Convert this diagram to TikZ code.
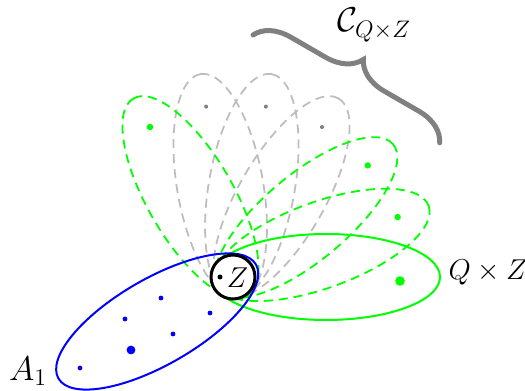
\documentclass[tikz,border=0pt]{standalone}
\usepackage{amsmath}
\usetikzlibrary{decorations.pathreplacing}
\definecolor{lgray}{RGB}{190,190,190}
\definecolor{dgray}{RGB}{128,128,128}
\definecolor{pgreen}{RGB}{0,255,0}
\definecolor{pblue}{RGB}{0,0,255}
\begin{document}
\begin{tikzpicture}[x=0.5bp,y=-0.5bp,
  ell/.style={line width=1bp},
  dsh/.style={line width=0.9bp, dash pattern=on 4.5bp off 3bp},
  lbl/.style={font=\fontsize{14}{17}\selectfont, inner sep=0pt},
  biglbl/.style={font=\fontsize{16.5}{20}\selectfont, inner sep=0pt}]
\useasboundingbox (0,0) rectangle (525,391);
\coordinate (O) at (236,276);
% gray dashed ellipses
\foreach \a in {60,80,100}
  \draw[dsh, lgray, rotate around={\a:(O)}] (327,276) ellipse [x radius=114, y radius=43];
% green dashed ellipses
\foreach \a in {20,40,120}
  \draw[dsh, pgreen, rotate around={\a:(O)}] (327,276) ellipse [x radius=114, y radius=43];
% solid green ellipse
\draw[ell, pgreen] (326,277) ellipse [x radius=114, y radius=43];
% blue ellipse
\draw[ell, pblue, rotate around={210:(O)}] (327,276) ellipse [x radius=114, y radius=43];
% dots
\foreach \a in {60,80,100}
  \fill[dgray, rotate around={\a:(O)}] (408,276) circle [radius=2];
\foreach \a in {20,40,120}
  \fill[pgreen, rotate around={\a:(O)}] (408,276) circle [radius=3.2];
\fill[pgreen] (400,281) circle [radius=4.8];
\fill[pblue] (80,368) circle [radius=2.4];
\fill[pblue] (131,350) circle [radius=4.4];
\fill[pblue] (125,319) circle [radius=2.4];
\fill[pblue] (161,298) circle [radius=2.4];
\fill[pblue] (173,334) circle [radius=2.4];
\fill[pblue] (210,313) circle [radius=2.4];
% Z circle
\node[circle, draw=black, line width=1.5bp, fill=white, minimum size=22bp, inner sep=0pt] (zc) at (233,277) {};
\fill[black] (220,277) circle [radius=2.5];
\node[font=\fontsize{15.5}{18}\selectfont, inner sep=0pt] (zl) at (237.5,278) {$Z$};
% labels
\node[biglbl] (a1) at (28,371) {$A_1$};
\node[lbl] (qz) at (488,272) {$Q\times Z$};
\node[biglbl] (cq) at (374,25) {$\mathcal{C}_{Q\times Z}$};
% brace
\coordinate (b1) at (253,35);
\coordinate (b2) at (440,143);
\draw[dgray, line width=2.5bp, line cap=round, decorate, decoration={brace, amplitude=17bp}] (b1) -- (b2);
\end{tikzpicture}
\end{document}
